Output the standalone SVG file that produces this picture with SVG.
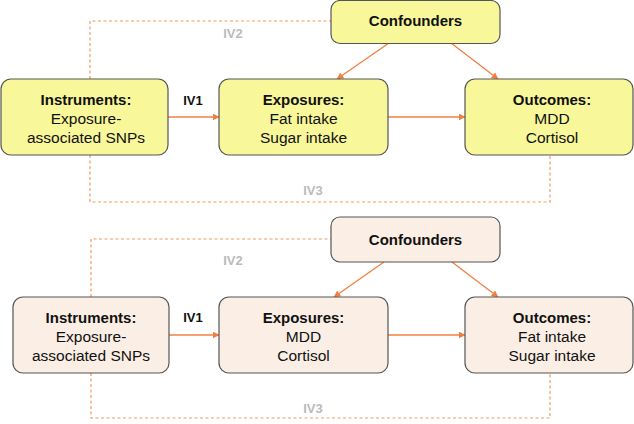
<svg xmlns="http://www.w3.org/2000/svg" width="634" height="424" viewBox="0 0 634 424">
<defs>
<marker id="ah" viewBox="0 0 10 10" refX="9" refY="5" markerWidth="7" markerHeight="7" markerUnits="userSpaceOnUse" orient="auto">
<path d="M0,0 L10,5 L0,10 z" fill="#f08040"/>
</marker>
<style>
.bx{stroke:#555;stroke-width:1.2}
.y{fill:#f8f79a}
.p{fill:#fbefe5}
.t{font-family:"Liberation Sans",Arial,sans-serif;font-size:15.5px;fill:#111;text-anchor:middle}
.b{font-weight:bold;font-size:15px}
.lab{font-family:"Liberation Sans",Arial,sans-serif;font-size:13px;font-weight:bold;text-anchor:middle}
.g{fill:#bbb}
.k{fill:#111}
.ar{stroke:#f08040;stroke-width:1.3;fill:none;marker-end:url(#ah)}
.da{stroke:#f39a66;stroke-width:1.2;fill:none;stroke-dasharray:3,2.5}
</style>
</defs>
<rect width="634" height="424" fill="#fff"/>
<g id="connectors">
<path class="da" d="M90,79 V21 H331"/>
<path class="da" d="M90,155 V202 H550 V155"/>
<path class="ar" d="M168,117 H219"/>
<path class="ar" d="M388,117 H465"/>
<path class="ar" d="M389,43 L337,79"/>
<path class="ar" d="M451,43 L498,79"/>
<path class="da" d="M91,297 V239 H331"/>
<path class="da" d="M91,373 V418 H550 V373"/>
<path class="ar" d="M169,335 H219"/>
<path class="ar" d="M388,335 H465"/>
<path class="ar" d="M384,262 L334,297"/>
<path class="ar" d="M452,262 L498,297"/>
</g>
<g id="labels">
<text class="lab k" x="193" y="105">IV1</text>
<text class="lab g" x="233" y="38">IV2</text>
<text class="lab g" x="313" y="195">IV3</text>
<text class="lab k" x="193" y="322">IV1</text>
<text class="lab g" x="233" y="265">IV2</text>
<text class="lab g" x="313" y="413">IV3</text>
</g>
<g id="confounders1">
<rect class="bx y" x="331" y="0.5" width="169" height="43" rx="9"/>
<text class="t b" x="415.5" y="26">Confounders</text>
</g>
<g id="instruments1">
<rect class="bx y" x="1" y="79" width="167" height="76" rx="10"/>
<text class="t b" x="86" y="105">Instruments:</text>
<text class="t" x="86" y="124">Exposure-</text>
<text class="t" x="86" y="143">associated SNPs</text>
</g>
<g id="exposures1">
<rect class="bx y" x="219" y="79" width="169" height="76" rx="10"/>
<text class="t b" x="303.5" y="105">Exposures:</text>
<text class="t" x="303.5" y="124">Fat intake</text>
<text class="t" x="303.5" y="143">Sugar intake</text>
</g>
<g id="outcomes1">
<rect class="bx y" x="465" y="79" width="168" height="76" rx="10"/>
<text class="t b" x="552" y="105">Outcomes:</text>
<text class="t" x="552" y="124">MDD</text>
<text class="t" x="552" y="143">Cortisol</text>
</g>
<g id="confounders2">
<rect class="bx p" x="331" y="217" width="169" height="45" rx="9"/>
<text class="t b" x="415.5" y="245">Confounders</text>
</g>
<g id="instruments2">
<rect class="bx p" x="13" y="297" width="156" height="76" rx="10"/>
<text class="t b" x="91" y="323">Instruments:</text>
<text class="t" x="91" y="342">Exposure-</text>
<text class="t" x="91" y="361">associated SNPs</text>
</g>
<g id="exposures2">
<rect class="bx p" x="219" y="297" width="169" height="76" rx="10"/>
<text class="t b" x="303.5" y="323">Exposures:</text>
<text class="t" x="303.5" y="342">MDD</text>
<text class="t" x="303.5" y="361">Cortisol</text>
</g>
<g id="outcomes2">
<rect class="bx p" x="465" y="297" width="168" height="76" rx="10"/>
<text class="t b" x="552" y="323">Outcomes:</text>
<text class="t" x="552" y="342">Fat intake</text>
<text class="t" x="552" y="361">Sugar intake</text>
</g>
</svg>
